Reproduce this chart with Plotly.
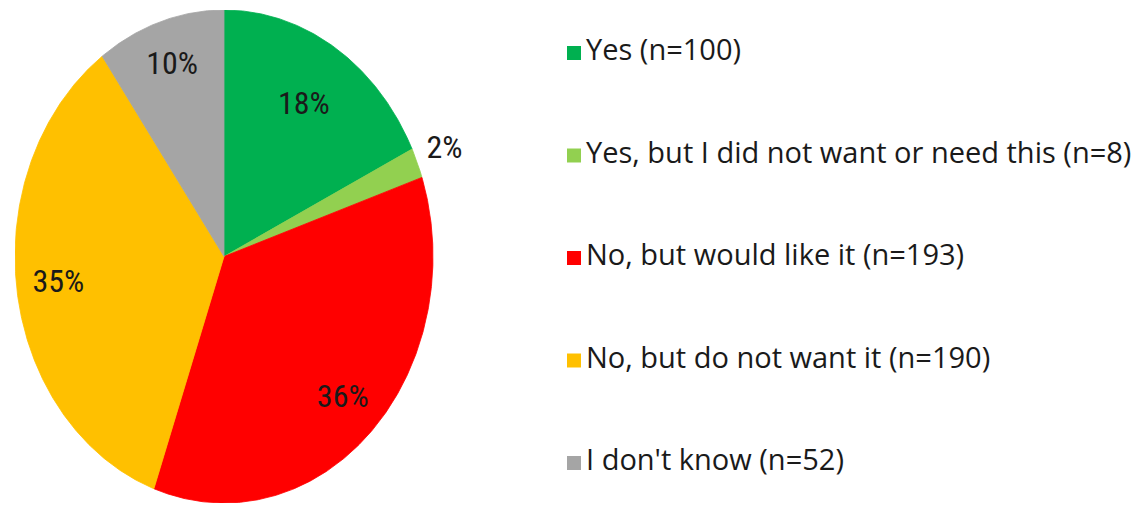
import numpy as np
import plotly.graph_objects as go

# Survey answers, in clockwise order from 12 o'clock
categories = [
    "Yes",
    "Yes, but I did not want or need this",
    "No, but would like it",
    "No, but do not want it",
    "I don't know",
]
counts = [100, 8, 193, 190, 52]
shares_pct = [18, 2, 36, 35, 10]
colors = ["#00B050", "#92D050", "#FF0000", "#FFC000", "#A5A5A5"]

# radial position of each percentage label (fraction of radius)
label_radius = [0.72, 1.14, 0.81, 0.80, 0.81]

W, H = 1135, 508
PIE_FONT = "Liberation Sans Narrow, Roboto Condensed, Roboto, sans-serif"
LEG_FONT = "Open Sans, Noto Sans, sans-serif"
TEXT_COLOR = "#1a1a1a"

# pie geometry in pixels: centre x, horizontal radius, top / bottom edge
CX, RX, TOP, BOTTOM = 224, 209, 10, 503
X_RIGHT = 1.3  # extra room on the right for the outside label

fig = go.Figure()

total = float(sum(shares_pct))
fractions = np.array(shares_pct) / total
edges = np.concatenate([[0.0], np.cumsum(fractions)])

# pie wedges drawn on a stretched unit square so the pie renders as an ellipse
for i, name in enumerate(categories):
    a0, a1 = edges[i] * 2 * np.pi, edges[i + 1] * 2 * np.pi
    n = max(int((a1 - a0) / (2 * np.pi) * 720), 4)
    t = np.linspace(a0, a1, n)
    xs = np.concatenate([[0.0], np.sin(t), [0.0]])
    ys = np.concatenate([[0.0], np.cos(t), [0.0]])
    fig.add_trace(go.Scatter(
        x=xs, y=ys, mode="lines", fill="toself",
        fillcolor=colors[i], line=dict(color=colors[i], width=0.8),
        hoverinfo="skip", showlegend=False, xaxis="x", yaxis="y",
    ))

mid = (edges[:-1] + edges[1:]) / 2 * 2 * np.pi
lx = np.sin(mid) * np.array(label_radius)
ly = np.cos(mid) * np.array(label_radius)
fig.add_trace(go.Scatter(
    x=lx, y=ly, mode="text",
    text=[f"{p}%" for p in shares_pct],
    textfont=dict(family=PIE_FONT, size=32, color=TEXT_COLOR),
    textposition="middle center", cliponaxis=False,
    hoverinfo="skip", showlegend=False, xaxis="x", yaxis="y",
))

# legend: coloured squares with their captions
rows = list(range(len(categories)))
fig.add_trace(go.Scatter(
    x=[18] * len(rows), y=rows, mode="markers",
    marker=dict(symbol="square", size=14, color=colors, line=dict(width=0)),
    hoverinfo="skip", showlegend=False, xaxis="x2", yaxis="y2",
))
fig.add_trace(go.Scatter(
    x=[30] * len(rows), y=rows, mode="text",
    text=[f"{c} (n={n})" for c, n in zip(categories, counts)],
    textposition="middle right", cliponaxis=False,
    textfont=dict(family=LEG_FONT, size=29, color=TEXT_COLOR),
    hoverinfo="skip", showlegend=False, xaxis="x2", yaxis="y2",
))

hidden = dict(visible=False, showgrid=False, zeroline=False, fixedrange=True)
fig.update_layout(
    width=W, height=H,
    margin=dict(l=0, r=0, t=0, b=0),
    paper_bgcolor="white", plot_bgcolor="rgba(0,0,0,0)",
    showlegend=False,
    xaxis=dict(domain=[(CX - RX) / W, (CX + X_RIGHT * RX) / W], range=[-1, X_RIGHT], **hidden),
    yaxis=dict(domain=[1 - BOTTOM / H, 1 - TOP / H], range=[-1, 1], **hidden),
    xaxis2=dict(domain=[556 / W, 1.0], range=[0, W - 556], **hidden),
    yaxis2=dict(domain=[0, 1], range=[(H - 53) / 102.5, -53 / 102.5], anchor="x2", **hidden),
)

fig.write_html("out.html")
